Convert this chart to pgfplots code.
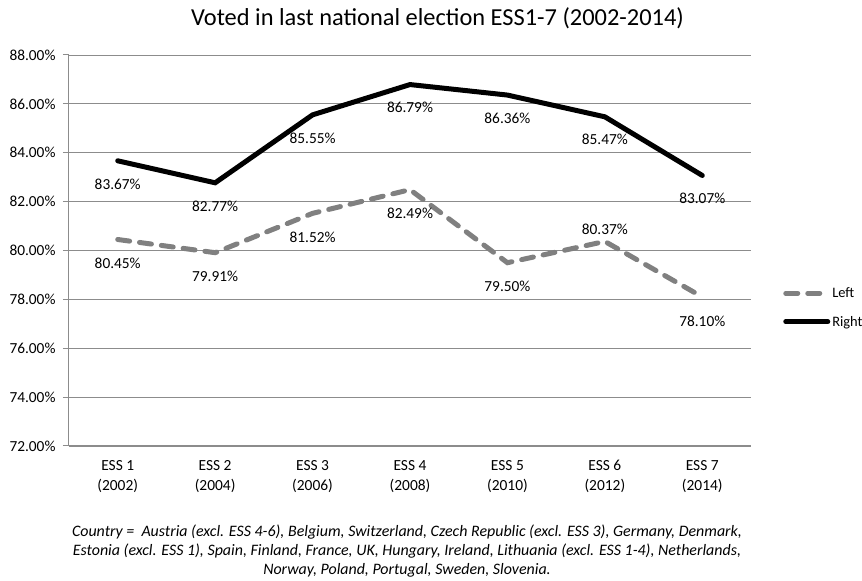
\documentclass[border=0pt]{standalone}
\usepackage{pgfplots}
\pgfplotsset{compat=1.18}
\usepackage{pgfplotstable}
\usepackage{fontspec}
\setmainfont{Carlito}
\definecolor{leftgray}{RGB}{128,128,128}
\definecolor{gridgray}{RGB}{140,140,140}
\pgfplotstableread{
x y dy
0 80.45 -23.5
1 79.91 -24
2 81.52 -23.5
3 82.49 -23.5
4 79.50 -24
5 80.37 12.5
6 78.10 -24
}\lefttab
\pgfplotstableread{
x y dy
0 83.67 -24
1 82.77 -24
2 85.55 -23
3 86.79 -22.5
4 86.36 -23
5 85.47 -23
6 83.07 -23
}\righttab
\begin{document}
\begin{tikzpicture}[x=1bp,y=1bp]
\path[use as bounding box] (-69,-135) rectangle (793,446);
\begin{axis}[
  at={(0,0)}, anchor=south west,
  scale only axis, width=682bp, height=391bp,
  xmin=-0.5, xmax=6.5, ymin=72, ymax=88,
  axis lines*=left,
  axis line style={gridgray, line width=1bp},
  xtick={0,...,6},
  xticklabels={{ESS 1\\(2002)},{ESS 2\\(2004)},{ESS 3\\(2006)},{ESS 4\\(2008)},{ESS 5\\(2010)},{ESS 6\\(2012)},{ESS 7\\(2014)}},
  xticklabel style={align=center, font=\fontsize{15.5}{20}\selectfont, yshift=-5bp},
  major x tick style={draw=none},
  extra x ticks={-0.5,0.5,1.5,2.5,3.5,4.5,5.5,6.5},
  extra x tick labels={},
  extra x tick style={major tick length=6bp, tick align=outside, tick style={gridgray, line width=1bp}},
  ytick={72,74,...,88},
  yticklabel={\pgfmathprintnumber[fixed,fixed zerofill,precision=2]{\tick}\%},
  yticklabel style={font=\fontsize{15.4}{17}\selectfont, xshift=-4bp},
  /pgf/number format/assume math mode=true,
  ymajorgrids,
  grid style={gridgray, line width=0.9bp},
  major y tick style={gridgray, line width=1bp},
  major tick length=6bp,
  tick align=outside,
  legend style={draw=none, fill=none, at={(1.047,0.354)}, anchor=west, font=\fontsize{14.5}{16}\selectfont, row sep=13bp, legend cell align=left, inner sep=0pt},
  legend image code/.code={\draw[#1] (0bp,0bp) -- (42bp,0bp);},
  nodes near coords,
  point meta=explicit,
  visualization depends on={\thisrow{dy} \as \dy},
  nodes near coords style={anchor=center, yshift=\dy bp, font=\fontsize{15.4}{17}\selectfont, black},
  clip=false,
]
\addplot[leftgray, line width=5bp, dash pattern=on 12bp off 10bp, line cap=round, no markers,
  nodes near coords={\pgfmathprintnumber[fixed,fixed zerofill,precision=2]{\pgfplotspointmeta}\%}]
  table[x=x, y=y, meta=y] {\lefttab};
\addlegendentry{Left}
\addplot[black, line width=5bp, line cap=round, no markers,
  nodes near coords={\pgfmathprintnumber[fixed,fixed zerofill,precision=2]{\pgfplotspointmeta}\%}]
  table[x=x, y=y, meta=y] {\righttab};
\addlegendentry{Right}
\end{axis}
\node[font=\fontsize{24.5}{28}\selectfont] at (368.5,428) {Voted in last national election ESS1-7 (2002-2014)};
\node[font=\fontsize{16}{19}\selectfont\itshape, align=center] at (338,-105) {Country = \ Austria (excl. ESS 4-6), Belgium, Switzerland, Czech Republic (excl. ESS 3), Germany, Denmark,\\Estonia (excl. ESS 1), Spain, Finland, France, UK, Hungary, Ireland, Lithuania (excl. ESS 1-4), Netherlands,\\Norway, Poland, Portugal, Sweden, Slovenia.};
\end{tikzpicture}
\end{document}
